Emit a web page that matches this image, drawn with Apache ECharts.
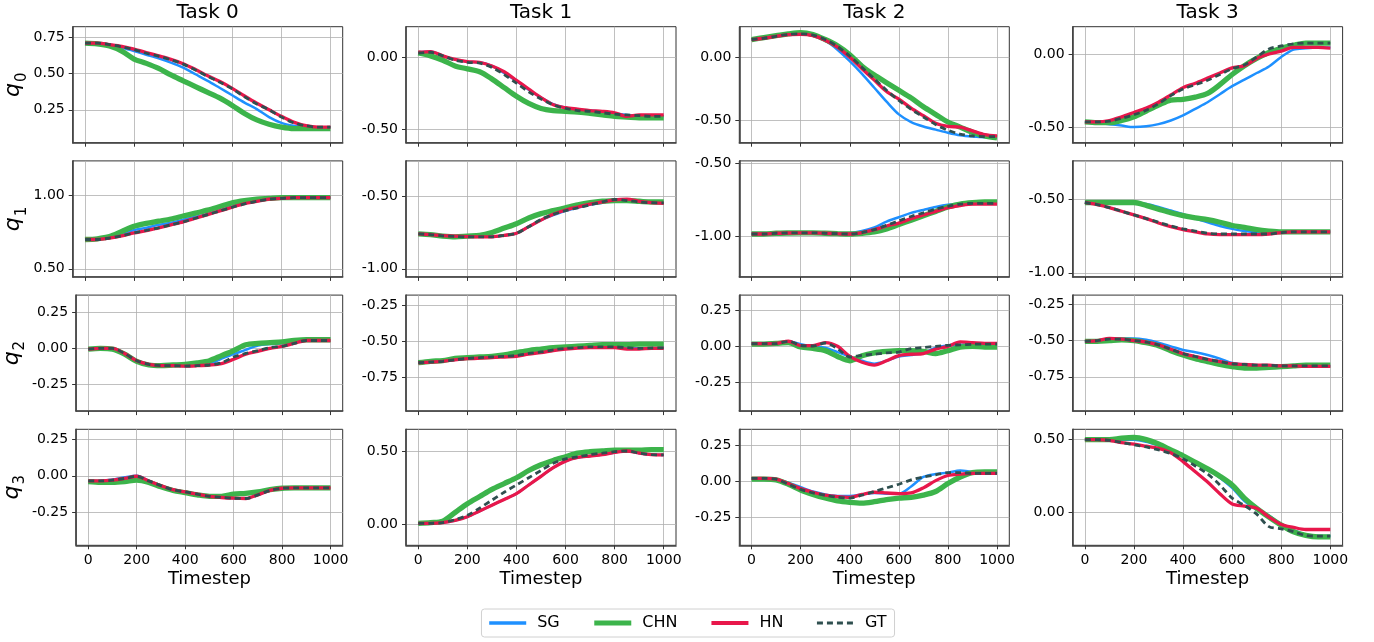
<!DOCTYPE html>
<html><head><meta charset="utf-8">
<script src="https://cdn.jsdelivr.net/npm/echarts@6/dist/echarts.min.js"></script>
<style>html,body{margin:0;padding:0;background:#fff}#c{width:1374px;height:642px}</style>
</head><body><div id="c"></div>
<script>
const timesteps = [0,50,100,150,200,250,300,350,400,450,500,550,600,650,700,750,800,850,900,950,1000];
const taskNames = ['Task 0','Task 1','Task 2','Task 3'];
const jointIdx = ['0','1','2','3'];
const methods = ['SG','CHN','HN','GT'];
const xTicks = [0,200,400,600,800,1000];
const xRange = [-50,1050];

// y ranges and ticks, row-major (q0..q3) x (Task0..Task3)
const yMin = [0.023,-0.593,-0.673,-0.607, 0.445,-1.056,-1.279,-1.028, -0.435,-0.986,-0.448,-0.987, -0.474,-0.147,-0.44,-0.223];
const yMax = [0.823,0.2125,0.241,0.187, 1.236,-0.257,-0.484,-0.236, 0.370,-0.18,0.354,-0.186, 0.317,0.655,0.358,0.571];
const yTicks = [
  [0.25,0.5,0.75],[-0.5,0],[-0.5,0],[-0.5,0],
  [0.5,1.0],[-1,-0.5],[-1,-0.5],[-1,-0.5],
  [-0.25,0,0.25],[-0.75,-0.5,-0.25],[-0.25,0,0.25],[-0.75,-0.5,-0.25],
  [-0.25,0,0.25],[0,0.5],[-0.25,0,0.25],[0,0.5]
];

// ---- q0 ----
const sg_q0_t0  = [.71,.71,.70,.68,.655,.63,.605,.575,.54,.495,.45,.40,.35,.30,.255,.20,.16,.14,.13,.13,.13];
const chn_q0_t0 = [.71,.705,.69,.655,.60,.57,.535,.49,.45,.41,.37,.33,.28,.225,.18,.15,.13,.12,.12,.12,.12];
const hn_q0_t0  = [.71,.71,.70,.688,.668,.645,.622,.598,.568,.528,.485,.445,.398,.345,.295,.25,.205,.165,.14,.13,.13];
const gt_q0_t0  = [.71,.71,.70,.685,.665,.64,.62,.595,.565,.525,.48,.44,.395,.34,.29,.25,.20,.16,.14,.13,.13];

const sg_q0_t1  = [.035,.04,.01,-.015,-.03,-.035,-.06,-.11,-.165,-.225,-.28,-.325,-.35,-.365,-.37,-.38,-.39,-.40,-.405,-.41,-.41];
const chn_q0_t1 = [.03,.01,-.02,-.06,-.08,-.10,-.15,-.21,-.27,-.32,-.355,-.37,-.375,-.38,-.39,-.40,-.41,-.415,-.42,-.42,-.42];
const hn_q0_t1  = [.035,.04,.01,-.015,-.03,-.035,-.06,-.10,-.16,-.22,-.28,-.33,-.35,-.36,-.37,-.375,-.385,-.41,-.40,-.40,-.40];
const gt_q0_t1  = [.03,.035,.01,-.02,-.035,-.04,-.07,-.12,-.18,-.24,-.29,-.33,-.355,-.37,-.375,-.385,-.395,-.40,-.405,-.41,-.41];

const sg_q0_t2  = [.14,.15,.165,.18,.185,.17,.13,.06,-.03,-.13,-.24,-.35,-.45,-.51,-.545,-.57,-.595,-.615,-.625,-.63,-.63];
const chn_q0_t2 = [.14,.155,.17,.185,.195,.18,.14,.09,.02,-.07,-.14,-.20,-.26,-.32,-.39,-.45,-.51,-.55,-.59,-.62,-.635];
const hn_q0_t2  = [.14,.15,.165,.178,.18,.17,.135,.08,.0,-.09,-.18,-.27,-.33,-.40,-.46,-.52,-.545,-.55,-.58,-.61,-.62];
const gt_q0_t2  = [.14,.15,.165,.18,.185,.175,.14,.085,.01,-.08,-.17,-.26,-.34,-.41,-.47,-.53,-.575,-.605,-.62,-.625,-.625];

const sg_q0_t3  = [-.465,-.47,-.48,-.49,-.50,-.495,-.48,-.455,-.42,-.375,-.33,-.275,-.22,-.175,-.13,-.085,-.02,.03,.04,.045,.045];
const chn_q0_t3 = [-.465,-.47,-.47,-.455,-.43,-.39,-.35,-.315,-.31,-.295,-.27,-.21,-.14,-.08,-.03,.01,.04,.06,.075,.075,.075];
const hn_q0_t3  = [-.465,-.465,-.455,-.43,-.40,-.37,-.33,-.28,-.23,-.20,-.165,-.13,-.095,-.08,-.03,.0,.02,.045,.045,.045,.04];
const gt_q0_t3  = [-.465,-.465,-.46,-.44,-.415,-.385,-.34,-.285,-.24,-.21,-.18,-.14,-.10,-.075,-.02,.035,.055,.07,.075,.075,.075];

// ---- q1 ----
const sg_q1_t0  = [.70,.70,.715,.74,.765,.78,.80,.815,.835,.855,.875,.90,.925,.945,.965,.975,.98,.985,.985,.985,.985];
const chn_q1_t0 = [.70,.705,.72,.755,.79,.81,.825,.84,.86,.88,.90,.925,.95,.965,.975,.98,.985,.985,.985,.985,.985];
const hn_q1_t0  = [.70,.70,.71,.725,.745,.76,.78,.80,.82,.845,.87,.895,.92,.945,.96,.975,.98,.985,.985,.985,.985];
const gt_q1_t0  = [.70,.70,.71,.725,.745,.762,.78,.80,.82,.845,.87,.895,.92,.943,.96,.975,.98,.985,.985,.985,.985];

const sg_q1_t1  = [-.76,-.765,-.772,-.775,-.778,-.78,-.78,-.77,-.755,-.71,-.665,-.63,-.60,-.58,-.56,-.545,-.525,-.53,-.54,-.545,-.545];
const chn_q1_t1 = [-.76,-.765,-.775,-.78,-.775,-.77,-.75,-.72,-.69,-.65,-.62,-.60,-.58,-.56,-.545,-.535,-.53,-.53,-.535,-.54,-.54];
const hn_q1_t1  = [-.76,-.765,-.772,-.775,-.778,-.78,-.78,-.77,-.755,-.71,-.665,-.625,-.595,-.575,-.555,-.54,-.525,-.52,-.535,-.545,-.55];
const gt_q1_t1  = [-.76,-.765,-.773,-.777,-.78,-.78,-.78,-.77,-.755,-.71,-.66,-.625,-.60,-.58,-.56,-.54,-.523,-.53,-.54,-.545,-.546];

const sg_q1_t2  = [-.985,-.985,-.98,-.978,-.977,-.977,-.98,-.983,-.98,-.965,-.94,-.90,-.87,-.84,-.82,-.80,-.785,-.778,-.775,-.775,-.775];
const chn_q1_t2 = [-.985,-.985,-.98,-.978,-.977,-.977,-.98,-.983,-.985,-.98,-.97,-.95,-.92,-.89,-.86,-.83,-.80,-.78,-.77,-.765,-.765];
const hn_q1_t2  = [-.985,-.985,-.98,-.978,-.977,-.977,-.98,-.983,-.985,-.975,-.955,-.93,-.91,-.88,-.855,-.83,-.805,-.79,-.78,-.78,-.78];
const gt_q1_t2  = [-.985,-.985,-.98,-.978,-.977,-.977,-.98,-.983,-.985,-.975,-.955,-.925,-.895,-.865,-.84,-.815,-.795,-.78,-.775,-.775,-.775];

const sg_q1_t3  = [-.52,-.52,-.52,-.52,-.52,-.53,-.55,-.575,-.60,-.63,-.655,-.68,-.70,-.715,-.725,-.73,-.725,-.72,-.72,-.72,-.72];
const chn_q1_t3 = [-.52,-.52,-.52,-.52,-.52,-.54,-.565,-.59,-.61,-.625,-.637,-.655,-.677,-.69,-.706,-.715,-.72,-.72,-.72,-.72,-.72];
const hn_q1_t3  = [-.52,-.535,-.555,-.58,-.605,-.63,-.66,-.685,-.705,-.72,-.735,-.74,-.74,-.74,-.74,-.735,-.725,-.72,-.72,-.72,-.72];
const gt_q1_t3  = [-.52,-.535,-.555,-.58,-.605,-.63,-.655,-.68,-.70,-.715,-.73,-.735,-.735,-.735,-.735,-.735,-.725,-.72,-.72,-.72,-.72];

// ---- q2 ----
const sg_q2_t0  = [-.005,0,0,-.035,-.085,-.11,-.12,-.12,-.122,-.118,-.11,-.07,-.04,-.01,.02,.03,.035,.045,.055,.055,.055];
const chn_q2_t0 = [-.005,0,-.005,-.04,-.09,-.115,-.12,-.115,-.11,-.10,-.085,-.05,-.015,.025,.035,.04,.045,.055,.06,.06,.06];
const hn_q2_t0  = [-.005,0,0,-.035,-.085,-.11,-.12,-.12,-.123,-.12,-.115,-.105,-.075,-.04,-.02,.0,.015,.035,.055,.055,.055];
const gt_q2_t0  = [-.005,0,0,-.035,-.085,-.11,-.12,-.12,-.123,-.12,-.115,-.10,-.06,-.035,-.015,.005,.015,.035,.055,.055,.055];

const sg_q2_t1  = [-.65,-.645,-.64,-.63,-.62,-.615,-.61,-.605,-.60,-.585,-.575,-.56,-.55,-.545,-.54,-.54,-.54,-.545,-.55,-.548,-.546];
const chn_q2_t1 = [-.65,-.64,-.635,-.62,-.615,-.61,-.605,-.595,-.58,-.565,-.555,-.545,-.54,-.535,-.53,-.525,-.525,-.525,-.52,-.52,-.52];
const hn_q2_t1  = [-.65,-.645,-.64,-.63,-.622,-.618,-.615,-.61,-.605,-.59,-.58,-.565,-.555,-.548,-.545,-.545,-.545,-.555,-.555,-.55,-.55];
const gt_q2_t1  = [-.65,-.645,-.64,-.63,-.62,-.615,-.61,-.605,-.60,-.585,-.575,-.56,-.55,-.545,-.54,-.54,-.54,-.545,-.55,-.548,-.546];

const sg_q2_t2  = [.018,.018,.02,.035,.015,.0,-.01,-.04,-.07,-.10,-.12,-.10,-.07,-.06,-.045,-.01,.005,.01,.015,.015,.015];
const chn_q2_t2 = [.015,.015,.02,.025,-.005,-.015,-.03,-.07,-.10,-.065,-.045,-.035,-.03,-.03,-.035,-.05,-.03,-.005,0,-.005,-.005];
const hn_q2_t2  = [.018,.018,.02,.035,.005,.005,.025,.0,-.07,-.11,-.13,-.10,-.065,-.055,-.05,-.02,.0,.03,.025,.02,.02];
const gt_q2_t2  = [.018,.018,.018,.035,.007,.002,.023,-.016,-.074,-.062,-.055,-.045,-.04,-.016,-.009,.0,.007,.01,.014,.015,.016];

const sg_q2_t3  = [-.505,-.50,-.49,-.485,-.485,-.495,-.515,-.54,-.565,-.58,-.60,-.625,-.655,-.665,-.67,-.672,-.675,-.675,-.675,-.675,-.675];
const chn_q2_t3 = [-.505,-.505,-.50,-.495,-.50,-.515,-.535,-.57,-.60,-.625,-.645,-.665,-.68,-.69,-.69,-.685,-.68,-.675,-.67,-.67,-.67];
const hn_q2_t3  = [-.505,-.50,-.485,-.49,-.50,-.51,-.53,-.56,-.59,-.61,-.63,-.645,-.66,-.665,-.67,-.67,-.675,-.675,-.678,-.678,-.678];
const gt_q2_t3  = [-.505,-.50,-.49,-.49,-.50,-.51,-.53,-.56,-.59,-.61,-.63,-.645,-.66,-.665,-.67,-.67,-.675,-.675,-.675,-.675,-.675];

// ---- q3 ----
const sg_q3_t0  = [-.035,-.035,-.025,-.01,.0,-.035,-.067,-.095,-.11,-.125,-.14,-.148,-.153,-.155,-.13,-.10,-.085,-.083,-.083,-.083,-.083];
const chn_q3_t0 = [-.04,-.045,-.045,-.04,-.03,-.045,-.075,-.10,-.115,-.13,-.14,-.14,-.125,-.12,-.11,-.095,-.085,-.083,-.083,-.083,-.083];
const hn_q3_t0  = [-.035,-.035,-.03,-.018,-.003,-.035,-.067,-.095,-.11,-.125,-.14,-.148,-.153,-.155,-.13,-.10,-.085,-.083,-.083,-.083,-.083];
const gt_q3_t0  = [-.035,-.035,-.03,-.018,-.003,-.035,-.067,-.095,-.11,-.125,-.14,-.148,-.153,-.155,-.13,-.10,-.085,-.083,-.083,-.083,-.083];

const sg_q3_t1  = [.005,.005,.01,.025,.05,.09,.13,.17,.21,.27,.33,.39,.435,.46,.47,.48,.495,.505,.49,.48,.478];
const chn_q3_t1 = [.005,.01,.02,.08,.14,.19,.24,.28,.32,.37,.41,.44,.465,.49,.50,.505,.51,.51,.51,.515,.515];
const hn_q3_t1  = [.005,.005,.01,.025,.05,.09,.13,.17,.21,.27,.33,.39,.435,.46,.47,.48,.495,.505,.49,.48,.478];
const gt_q3_t1  = [.005,.005,.01,.03,.06,.11,.165,.22,.27,.32,.37,.42,.45,.465,.48,.49,.50,.505,.49,.48,.478];

const sg_q3_t2  = [.02,.02,.015,-.01,-.04,-.07,-.09,-.10,-.10,-.09,-.08,-.085,-.085,-.035,.03,.05,.06,.075,.065,.06,.055];
const chn_q3_t2 = [.015,.015,.01,-.02,-.06,-.09,-.115,-.135,-.145,-.15,-.14,-.125,-.115,-.11,-.095,-.07,-.015,.03,.06,.065,.065];
const hn_q3_t2  = [.02,.02,.015,-.015,-.05,-.075,-.095,-.105,-.11,-.09,-.075,-.08,-.085,-.08,-.045,.005,.04,.05,.055,.055,.055];
const gt_q3_t2  = [.02,.02,.015,-.02,-.055,-.08,-.095,-.11,-.115,-.095,-.07,-.045,-.02,.01,.03,.045,.06,.06,.055,.055,.055];

const sg_q3_t3  = [.50,.50,.50,.50,.50,.485,.46,.43,.395,.35,.30,.24,.17,.08,.02,-.02,-.08,-.12,-.15,-.16,-.16];
const chn_q3_t3 = [.50,.50,.50,.51,.515,.50,.47,.43,.39,.345,.30,.25,.19,.10,.03,-.03,-.085,-.13,-.155,-.165,-.165];
const hn_q3_t3  = [.50,.50,.495,.48,.47,.455,.44,.41,.35,.28,.21,.13,.06,.045,.03,-.03,-.08,-.10,-.115,-.115,-.115];
const gt_q3_t3  = [.50,.50,.495,.48,.465,.45,.43,.405,.37,.32,.265,.19,.10,.05,-.01,-.095,-.11,-.13,-.155,-.16,-.16];

const SG  = [sg_q0_t0,sg_q0_t1,sg_q0_t2,sg_q0_t3, sg_q1_t0,sg_q1_t1,sg_q1_t2,sg_q1_t3, sg_q2_t0,sg_q2_t1,sg_q2_t2,sg_q2_t3, sg_q3_t0,sg_q3_t1,sg_q3_t2,sg_q3_t3];
const CHN = [chn_q0_t0,chn_q0_t1,chn_q0_t2,chn_q0_t3, chn_q1_t0,chn_q1_t1,chn_q1_t2,chn_q1_t3, chn_q2_t0,chn_q2_t1,chn_q2_t2,chn_q2_t3, chn_q3_t0,chn_q3_t1,chn_q3_t2,chn_q3_t3];
const HN  = [hn_q0_t0,hn_q0_t1,hn_q0_t2,hn_q0_t3, hn_q1_t0,hn_q1_t1,hn_q1_t2,hn_q1_t3, hn_q2_t0,hn_q2_t1,hn_q2_t2,hn_q2_t3, hn_q3_t0,hn_q3_t1,hn_q3_t2,hn_q3_t3];
const GT  = [gt_q0_t0,gt_q0_t1,gt_q0_t2,gt_q0_t3, gt_q1_t0,gt_q1_t1,gt_q1_t2,gt_q1_t3, gt_q2_t0,gt_q2_t1,gt_q2_t2,gt_q2_t3, gt_q3_t0,gt_q3_t1,gt_q3_t2,gt_q3_t3];
const seriesData = {SG: SG, CHN: CHN, HN: HN, GT: GT};

const styles = {
  SG:  {color:'#1e90ff', width:2.5, legendWidth:3.5, type:'solid'},
  CHN: {color:'#3cb44b', width:5.3, legendWidth:5,   type:'solid'},
  HN:  {color:'#e8174b', width:3.3, legendWidth:4,   type:'solid'},
  GT:  {color:'#2f4f4f', width:2.8, legendWidth:3,   type:[6,4]}
};

const FONT = 'DejaVu Sans';
const grids = [], xAxes = [], yAxes = [], series = [], titles = [];
const gLeft0 = 72.7, gDx = 333.3, gTop0 = 26.7, gDy = 134.2, gW = 270, gH = 116;

for (let c = 0; c < 4; c++) {
  titles.push({
    text: taskNames[c], left: gLeft0 + gDx*c + gW/2, top: 3, textAlign: 'center', padding: 0,
    textStyle: {fontFamily: FONT, fontSize: 20, fontWeight: 'normal', color: '#000'}
  });
}

for (let r = 0; r < 4; r++) {
  for (let c = 0; c < 4; c++) {
    const k = r*4 + c;
    grids.push({left: gLeft0 + gDx*c, top: gTop0 + gDy*r, width: gW, height: gH,
      show: true, borderColor: '#333', borderWidth: 1, backgroundColor: 'transparent'});
    const bottom = (r === 3);
    xAxes.push({
      type: 'value', gridIndex: k, min: xRange[0], max: xRange[1],
      name: bottom ? 'Timestep' : '', nameLocation: 'middle', nameGap: 25,
      nameTextStyle: {fontFamily: FONT, fontSize: 18, color: '#000'},
      axisLine: {show: true, onZero: false, lineStyle: {color: '#444', width: 1.6}},
      axisTick: {show: true, inside: false, length: 4, customValues: xTicks, lineStyle: {color: '#333', width: 1}},
      axisLabel: {show: bottom, customValues: xTicks, margin: 8, fontFamily: FONT, fontSize: 14, color: '#000',
        formatter: v => String(Math.round(v))},
      splitLine: {show: true, lineStyle: {color: '#b0b0b0', width: 0.8}}
    });
    const first = (c === 0);
    yAxes.push({
      type: 'value', gridIndex: k, min: yMin[k], max: yMax[k],
      name: first ? '{q|q}{s|' + jointIdx[r] + '}' : '', nameLocation: 'middle', nameGap: 46, nameRotate: 90,
      nameTextStyle: {fontFamily: FONT, color: '#000',
        rich: {q: {fontFamily: FONT, fontSize: 22, fontStyle: 'italic', color: '#000', verticalAlign: 'bottom'},
               s: {fontFamily: FONT, fontSize: 15, color: '#000', verticalAlign: 'bottom', padding: [0,0,-5,1]}}},
      axisLine: {show: true, onZero: false, lineStyle: {color: '#444', width: 1.6}},
      axisTick: {show: true, inside: false, length: 4, customValues: yTicks[k], lineStyle: {color: '#333', width: 1}},
      axisLabel: {show: true, customValues: yTicks[k], margin: 8, fontFamily: FONT, fontSize: 14, color: '#000',
        formatter: v => Number(v).toFixed(2)},
      splitLine: {show: true, lineStyle: {color: '#b0b0b0', width: 0.8}}
    });
    methods.forEach((m, mi) => {
      const arr = seriesData[m][k];
      const st = styles[m];
      series.push({
        name: m, type: 'line', xAxisIndex: k, yAxisIndex: k,
        data: timesteps.map((t, i) => [t, arr[i]]),
        symbol: 'none', showSymbol: false, smooth: 0.3, silent: true, z: 2 + mi,
        lineStyle: {color: st.color, width: st.width, type: st.type, cap: 'butt'},
        itemStyle: {color: st.color}
      });
    });
  }
}

const legendData = methods.map(m => ({
  name: m,
  lineStyle: {color: styles[m].color, width: styles[m].legendWidth, type: styles[m].type}
}));

const chart = echarts.init(document.getElementById('c'), null, {renderer: 'canvas'});
chart.setOption({
  animation: false,
  textStyle: {fontFamily: FONT},
  title: titles,
  grid: grids, xAxis: xAxes, yAxis: yAxes, series: series,
  legend: {
    data: legendData, left: 'center', top: 609, orient: 'horizontal',
    itemWidth: 37, itemHeight: 14, itemGap: 32,
    itemStyle: {color: 'rgba(0,0,0,0)', borderColor: 'rgba(0,0,0,0)', borderWidth: 0, opacity: 0},
    padding: [6, 8, 6, 6], borderColor: '#d0d0d0', borderWidth: 1, borderRadius: 3,
    textStyle: {fontFamily: FONT, fontSize: 16, color: '#000', padding: [0, 0, 0, 6]}
  }
});
</script>
</body></html>
